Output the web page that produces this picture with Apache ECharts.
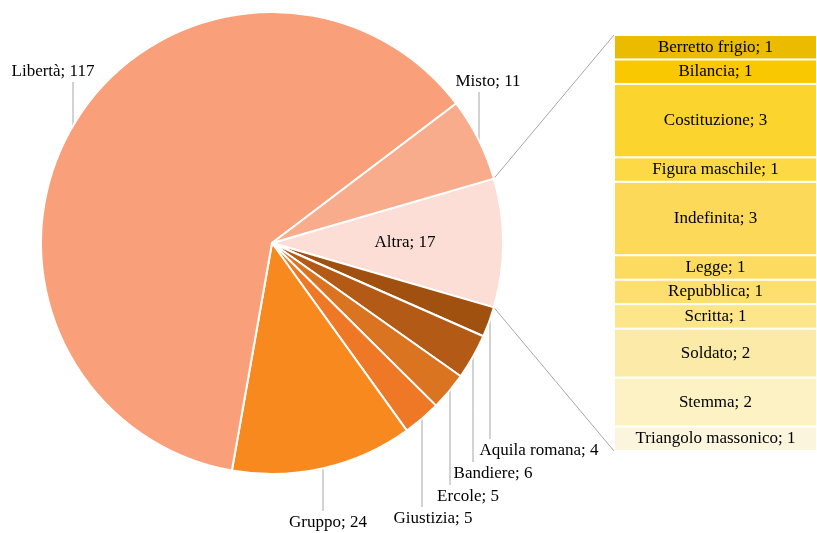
<!DOCTYPE html>
<html>
<head>
<meta charset="utf-8">
<script src="https://cdn.jsdelivr.net/npm/echarts@6/dist/echarts.min.js"></script>
<style>html,body{margin:0;padding:0;background:#fff}#c{width:817px;height:533px}</style>
</head>
<body>
<div id="c"></div>
<script>
// ---- data ----
const pieNames  = ['Altra', 'Aquila romana', 'Bandiere', 'Ercole', 'Giustizia', 'Gruppo', 'Libertà', 'Misto'];
const pieValues = [17, 4, 6, 5, 5, 24, 117, 11];
const pieColors = ['#FDDED7', '#A0500F', '#B35A17', '#DA7421', '#EF7826', '#F7891F', '#F9A07A', '#F8AC8C'];

const barNames  = ['Berretto frigio', 'Bilancia', 'Costituzione', 'Figura maschile', 'Indefinita', 'Legge', 'Repubblica', 'Scritta', 'Soldato', 'Stemma', 'Triangolo massonico'];
const barValues = [1, 1, 3, 1, 3, 1, 1, 1, 2, 2, 1];
const barColors = ['#EBBB00', '#FAC800', '#FBD42E', '#FCD945', '#FDD95A', '#FDDB60', '#FDDF70', '#FDE58A', '#FBEAA8', '#FCF2C3', '#FBF5DE'];

// ---- layout ----
const FONT = '"Liberation Serif", "DejaVu Serif", serif';
const FS = 17;
const CX = 272, CY = 243, R = 231;
// label centre [x, y], x of vertical leader line, side of label relative to pie
const labelPlace = {
  'Altra':         {x: 405, y: 243},
  'Aquila romana': {x: 539, y: 451, lx: 490, below: true},
  'Bandiere':      {x: 493, y: 474, lx: 473, below: true},
  'Ercole':        {x: 468, y: 497, lx: 450, below: true},
  'Giustizia':     {x: 433, y: 519, lx: 422, below: true},
  'Gruppo':        {x: 328, y: 523, lx: 323, below: true},
  'Libertà':       {x: 53,  y: 72,  lx: 73,  below: false},
  'Misto':         {x: 488, y: 82,  lx: 479, below: false}
};

const total = pieValues.reduce((a, b) => a + b, 0);
const startAngle = pieValues[0] / total * 180;

const chart = echarts.init(document.getElementById('c'), null, {renderer: 'canvas'});

const pieData = pieNames.map((n, i) => {
  const d = {name: n, value: pieValues[i], itemStyle: {color: pieColors[i]}};
  if (i === 0) { d.label = {position: 'inside'}; d.labelLine = {show: false}; }
  return d;
});

const barSeries = barNames.map((n, i) => ({
  type: 'bar',
  name: n,
  stack: 'altra',
  xAxisIndex: 0, yAxisIndex: 0,
  barWidth: '100%',
  data: [barValues[i]],
  itemStyle: {color: barColors[i], borderColor: '#fff', borderWidth: 1},
  label: {show: true, position: 'inside', formatter: '{a}; {c}', color: '#000', fontFamily: FONT, fontSize: FS},
  emphasis: {disabled: true},
  silent: true
}));

chart.setOption({
  animation: false,
  grid: {left: 614, right: 0, top: 35, bottom: 82},
  xAxis: {type: 'category', data: ['Altra'], show: false, boundaryGap: true},
  yAxis: {type: 'value', min: 0, max: 17, inverse: true, show: false},
  series: [{
    type: 'pie',
    center: [CX, CY],
    radius: R,
    startAngle: startAngle,
    clockwise: true,
    avoidLabelOverlap: false,
    silent: true,
    itemStyle: {borderColor: '#fff', borderWidth: 2},
    label: {show: true, position: 'outside', formatter: '{b}; {c}', color: '#000', fontFamily: FONT, fontSize: FS},
    labelLine: {show: true, smooth: false, lineStyle: {color: '#A6A6A6', width: 1}},
    labelLayout: function (params) {
      const p = labelPlace[pieNames[params.dataIndex]];
      if (!p) return {};
      const out = {x: p.x, y: p.y, align: 'center', verticalAlign: 'middle'};
      if (p.lx != null) {
        const dy = Math.sqrt(Math.max(0, R * R - (p.lx - CX) * (p.lx - CX)));
        const edgeY = p.below ? CY + dy : CY - dy;
        const endY = p.below ? p.y - 12 : p.y + 10;
        out.labelLinePoints = [[p.lx, endY], [p.lx, (endY + edgeY) / 2], [p.lx, edgeY]];
      }
      return out;
    },
    data: pieData
  }].concat(barSeries)
});

// connector lines from the "Altra" slice edges to the breakdown bar
const rect = chart.getModel().getComponent('grid', 0).coordinateSystem.getRect();
const a1 = startAngle * Math.PI / 180, a2 = -startAngle * Math.PI / 180;
const p1 = [CX + R * Math.cos(a1), CY - R * Math.sin(a1)];
const p2 = [CX + R * Math.cos(a2), CY - R * Math.sin(a2)];
chart.setOption({
  graphic: [
    {type: 'line', silent: true, shape: {x1: p1[0], y1: p1[1], x2: rect.x, y2: rect.y}, style: {stroke: '#A6A6A6', lineWidth: 1}},
    {type: 'line', silent: true, shape: {x1: p2[0], y1: p2[1], x2: rect.x, y2: rect.y + rect.height}, style: {stroke: '#A6A6A6', lineWidth: 1}}
  ]
});
</script>
</body>
</html>
